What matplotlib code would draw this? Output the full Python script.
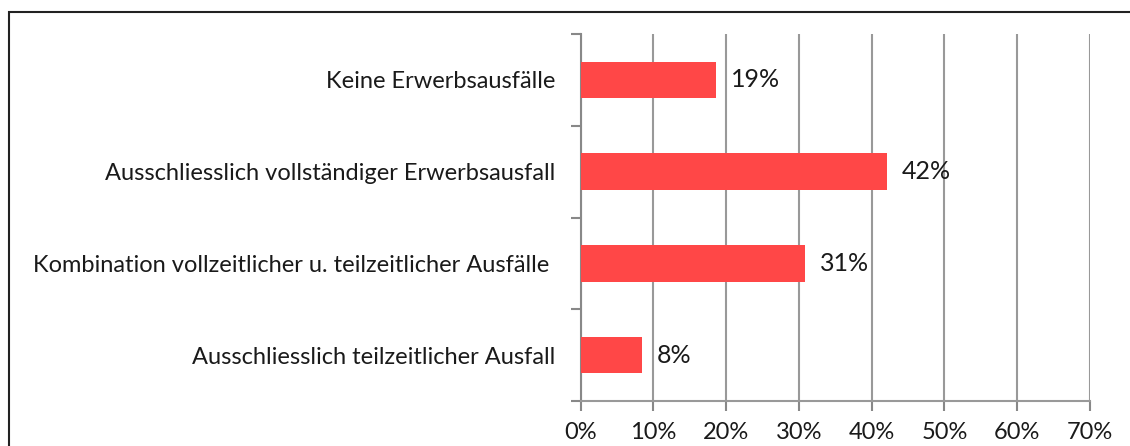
import matplotlib
matplotlib.use("Agg")
import matplotlib.pyplot as plt
from matplotlib.patches import Rectangle

categories = [
    "Keine Erwerbsausfälle",
    "Ausschliesslich vollständiger Erwerbsausfall",
    "Kombination vollzeitlicher u. teilzeitlicher Ausfälle ",
    "Ausschliesslich teilzeitlicher Ausfall",
]
values = [18.6, 42.1, 30.8, 8.4]
value_labels = ["19%", "42%", "31%", "8%"]
xticks = [0, 10, 20, 30, 40, 50, 60, 70]
xtick_labels = ["0%", "10%", "20%", "30%", "40%", "50%", "60%", "70%"]

plt.rcParams['font.family'] = ['Lato', 'DejaVu Sans']

W, H = 1130, 446
fig = plt.figure(figsize=(W / 100, H / 100), dpi=100)

# outer frame
fig.patches.append(Rectangle((8.5 / W, -0.1), 1.2, 1 - 11.5 / H + 0.1,
                             transform=fig.transFigure, fill=False,
                             edgecolor="#222222", linewidth=1.5))

left, right, top, bottom = 580.7, 1089.9, 34, 401
ax = fig.add_axes([left / W, 1 - bottom / H, (right - left) / W, (bottom - top) / H])

n = len(categories)
pos = list(range(n))[::-1]
bar_color = "#FF4747"
ax.barh(pos, values, height=0.4, color=bar_color, zorder=3)
ax.set_xlim(0, 70)
ax.set_ylim(-0.5, n - 0.5)

fs = 17
txt_color = "#1a1a1a"
for p, v, lab in zip(pos, values, value_labels):
    ax.annotate(lab, (v, p), xytext=(11, 0), textcoords="offset points",
                va="center", ha="left", fontsize=18, color=txt_color)

ax.set_xticks(xticks)
ax.set_xticklabels(xtick_labels, fontsize=fs, color=txt_color)
ax.set_yticks(pos)
ax.set_yticklabels(categories, fontsize=fs, color=txt_color)
ax.tick_params(axis="y", length=0, pad=18)
ax.set_yticks([-0.5, 0.5, 1.5, 2.5, 3.5], minor=True)
ax.tick_params(axis="y", which="minor", length=7, color="#888888", width=1.5)
ax.tick_params(axis="x", length=7, color="#888888", width=1.5, pad=8)

ax.grid(axis="x", color="#999999", linewidth=1.5, zorder=0)
for s in ["top", "right"]:
    ax.spines[s].set_visible(False)
ax.spines["left"].set_color("#888888")
ax.spines["left"].set_linewidth(1.5)
ax.spines["bottom"].set_color("#999999")
ax.spines["bottom"].set_linewidth(1.5)

fig.savefig("out.png", dpi=100)
